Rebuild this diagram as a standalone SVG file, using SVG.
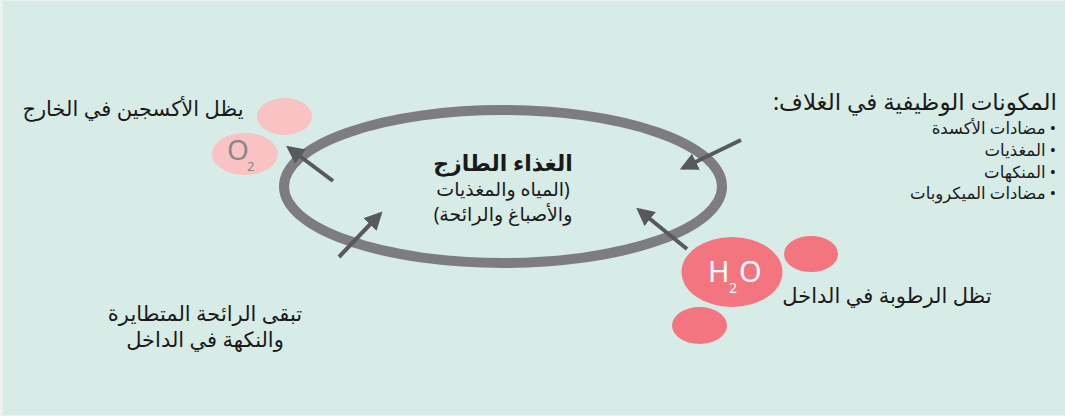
<svg xmlns="http://www.w3.org/2000/svg" width="1065" height="416" viewBox="0 0 1065 416">
<style>
text{font-family:"Noto Sans","DejaVu Sans",sans-serif;fill:#1a1a1a}
.ar{direction:rtl}
.lbl{font-size:21px}
.sub{font-size:16.5px}
.chem{font-family:"Noto Sans",sans-serif}
.arrow{stroke:#58595b;stroke-width:4;fill:none;marker-end:url(#ah)}
.o2{fill:#f9c3c3}
.h2o{fill:#f27580}
</style>
<defs>
<marker id="ah" viewBox="0 0 10 10" refX="8" refY="5" markerWidth="4.5" markerHeight="4.5" orient="auto" markerUnits="strokeWidth">
<path d="M0,0 L10,5 L0,10 z" fill="#58595b"/>
</marker>
</defs>
<rect x="0" y="0" width="1065" height="416" fill="#e8f3ef"/>
<rect x="3" y="1" width="1062" height="414" fill="#d7ebe7"/>

<g id="ring">
<ellipse cx="503" cy="186.5" rx="219" ry="76.5" fill="none" stroke="#7d7d7f" stroke-width="10"/>
</g>

<g id="center">
<text class="ar" x="503" y="171" text-anchor="middle" font-size="22" font-weight="bold">الغذاء الطازج</text>
<text class="ar" x="503" y="196" text-anchor="middle" font-size="19">(المياه والمغذيات</text>
<text class="ar" x="503" y="221" text-anchor="middle" font-size="19">والأصباغ والرائحة)</text>
</g>

<g id="oxygen">
<ellipse class="o2" cx="284.5" cy="116.5" rx="27.5" ry="18.5"/>
<ellipse class="o2" cx="245" cy="154" rx="33" ry="21"/>
<text class="chem" x="227" y="160" font-size="28" style="fill:#888888">O</text>
<text class="chem" x="247" y="171" font-size="13" style="fill:#888888">2</text>
<text class="ar lbl" x="133" y="116" text-anchor="middle">يظل الأكسجين في الخارج</text>
</g>

<g id="coating">
<text class="ar" x="1057" y="110" text-anchor="start" font-size="23">المكونات الوظيفية في الغلاف:</text>
<text class="ar sub" x="1056" y="134" text-anchor="start">• مضادات الأكسدة</text>
<text class="ar sub" x="1056" y="156" text-anchor="start">• المغذيات</text>
<text class="ar sub" x="1056" y="177.5" text-anchor="start">• المنكهات</text>
<text class="ar sub" x="1056" y="199" text-anchor="start">• مضادات الميكروبات</text>
</g>

<g id="moisture">
<ellipse class="h2o" cx="732" cy="272" rx="50.5" ry="35"/>
<ellipse class="h2o" cx="811" cy="254" rx="27" ry="18"/>
<ellipse class="h2o" cx="699.5" cy="325.5" rx="27.5" ry="18.5"/>
<text class="chem" x="708" y="282" font-size="29" style="fill:#ffffff">H</text>
<text class="chem" x="729" y="293" font-size="14" style="fill:#ffffff">2</text>
<text class="chem" x="739" y="282" font-size="29" style="fill:#ffffff">O</text>
<text class="ar lbl" x="887" y="303" text-anchor="middle">تظل الرطوبة في الداخل</text>
</g>

<g id="aroma">
<text class="ar lbl" x="205" y="321" text-anchor="middle">تبقى الرائحة المتطايرة</text>
<text class="ar lbl" x="205" y="347" text-anchor="middle">والنكهة في الداخل</text>
</g>

<g id="connectors">
<line class="arrow" x1="333" y1="181" x2="289" y2="148"/>
<line class="arrow" x1="339" y1="257" x2="380" y2="214"/>
<line class="arrow" x1="741" y1="140" x2="683" y2="168"/>
<line class="arrow" x1="687" y1="249" x2="639" y2="210"/>
</g>
</svg>
